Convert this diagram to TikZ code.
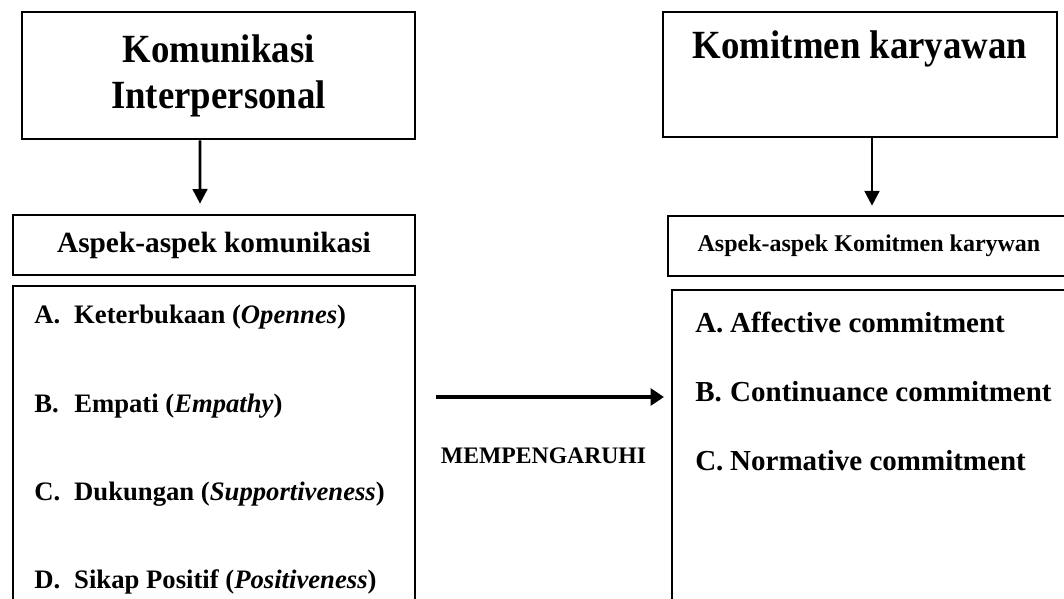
\documentclass[tikz,border=0pt]{standalone}
\usepackage{fontspec}
\setmainfont{Liberation Serif}
\newfontfamily\judulfont[FakeStretch=0.92]{Liberation Serif}
\usetikzlibrary{arrows.meta}

\tikzset{
  kotak/.style={draw, line width=2pt, inner sep=0pt},
  panah/.style={line width=2pt, -{Triangle[length=11pt, width=11pt]}},
  panahbesar/.style={line width=3.6pt, -{Triangle[length=10pt, width=12.5pt]}},
  butir/.style={anchor=base west, inner sep=0pt, font=\bfseries\fontsize{20}{24}\selectfont},
  butirkanan/.style={anchor=base west, inner sep=0pt, font=\bfseries\fontsize{21.75}{26}\selectfont},
  judul/.style={align=center, font=\judulfont\bfseries\fontsize{30}{34.5}\selectfont},
}

\begin{document}
\begin{tikzpicture}[x=0.75pt, y=-0.75pt]
\useasboundingbox (0,0) rectangle (1064,599);
\clip (0,0) rectangle (1064,599);

% kotak judul
\node[kotak, judul, minimum width=294.75pt, minimum height=95.25pt] (komint) at (218.5,75.5) {Komunikasi\\Interpersonal};
\node[kotak, judul, minimum width=295.5pt, minimum height=93.75pt] (komkar) at (860,74.5) {Komitmen karyawan\\ \strut};

% kotak aspek
\node[kotak, minimum width=301.5pt, minimum height=45pt,
  font=\bfseries\fontsize{22}{26}\selectfont] (aspkom) at (214,245) {Aspek-aspek komunikasi};
\node[kotak, minimum width=301.5pt, minimum height=45pt,
  font=\bfseries\fontsize{18}{22}\selectfont] (aspkar) at (869,246) {Aspek-aspek Komitmen karywan};

% kotak daftar
\node[kotak, minimum width=301.5pt, minimum height=270pt] (dafkom) at (214,466) {};
\node[kotak, minimum width=301.5pt, minimum height=270pt] (dafkar) at (873,470) {};

% isi kiri
\node[butir] (opn) at (34,323) {\makebox[30pt][l]{A.}Keterbukaan (\textit{Opennes})};
\node[butir] (emp) at (34,412) {\makebox[30pt][l]{B.}Empati (\textit{Empathy})};
\node[butir] (dkg) at (34,500) {\makebox[30pt][l]{C.}Dukungan (\textit{Supportiveness})};
\node[butir] (pos) at (34,588) {\makebox[30pt][l]{D.}Sikap Positif (\textit{Positiveness})};

% isi kanan
\node[butirkanan] (afk) at (695,332) {\makebox[26.25pt][l]{A.}Affective commitment};
\node[butirkanan] (kon) at (695,401) {\makebox[26.25pt][l]{B.}Continuance commitment};
\node[butirkanan] (nor) at (695,470) {\makebox[26.25pt][l]{C.}Normative commitment};

% panah
\draw[panah, shorten >=7.5pt] ([xshift=-13.9pt]komint.south) -- ([xshift=-10.5pt]aspkom.north);
\draw[panah, shorten >=6.75pt] ([xshift=9pt]komkar.south) -- ([xshift=2.25pt]aspkar.north);

\coordinate (awal) at (436,397);
\coordinate (akhir) at (664,397);
\draw[panahbesar] (awal) -- (akhir);
\node[anchor=base, inner sep=0pt, font=\bfseries\fontsize{17.75}{22}\selectfont] (pengaruh) at (543.5,463) {MEMPENGARUHI};
\end{tikzpicture}
\end{document}
